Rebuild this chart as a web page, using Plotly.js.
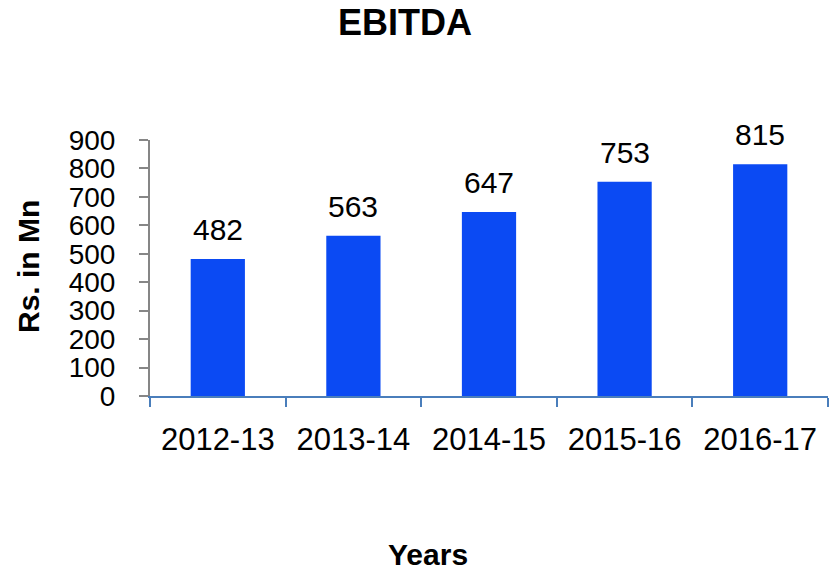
<!DOCTYPE html>
<html>
<head>
<meta charset="utf-8">
<script src="https://cdn.plot.ly/plotly-3.0.1.min.js"></script>
<style>html,body{margin:0;padding:0;background:#fff}#chart{width:836px;height:573px}</style>
</head>
<body>
<div id="chart"></div>
<script>
const years = ["2012-13", "2013-14", "2014-15", "2015-16", "2016-17"];
const ebitda = [482, 563, 647, 753, 815];
const yTicks = [0, 100, 200, 300, 400, 500, 600, 700, 800, 900];

const font = "Liberation Sans, Arial, sans-serif";

const trace = {
  type: "bar",
  x: years,
  y: ebitda,
  width: 0.4,
  marker: {color: "#0b4af3"},
  hoverinfo: "x+y"
};

const labelAnnotations = years.map((yr, i) => ({
  x: yr, y: ebitda[i], xref: "x", yref: "y",
  text: String(ebitda[i]), showarrow: false,
  yanchor: "bottom", yshift: 11,
  font: {family: font, size: 30, color: "#000"}
}));

const layout = {
  width: 836, height: 573,
  margin: {l: 150, r: 8, t: 140, b: 177},
  paper_bgcolor: "#fff", plot_bgcolor: "#fff",
  showlegend: false,
  title: {
    text: "<b>EBITDA</b>", xref: "container", yref: "container",
    x: 405/836, xanchor: "center", y: 1 - 22/573, yanchor: "middle",
    font: {family: font, size: 36, color: "#000"}
  },
  xaxis: {
    type: "category",
    showline: true, linecolor: "#4a7ebb", linewidth: 2,
    ticks: "outside", tickson: "boundaries", ticklen: 9, tickcolor: "#4a7ebb", tickwidth: 2,
    tickfont: {family: font, size: 31, color: "#000"},
    ticklabelstandoff: 15,
    showgrid: false, zeroline: false
  },
  yaxis: {
    range: [0, 900],
    tickvals: yTicks,
    showline: true, linecolor: "#868686", linewidth: 2,
    ticks: "outside", ticklen: 9, tickcolor: "#868686", tickwidth: 2,
    tickfont: {family: font, size: 28, color: "#000"},
    ticklabelstandoff: 18,
    showgrid: false, zeroline: false
  },
  annotations: labelAnnotations.concat([
    {
      text: "<b>Years</b>", xref: "paper", yref: "paper",
      x: (428 - 150) / 678, y: -(554 - 396) / 256, xanchor: "center", yanchor: "middle",
      showarrow: false, font: {family: font, size: 30, color: "#000"}
    },
    {
      text: "<b>Rs. in Mn</b>", xref: "paper", yref: "paper", textangle: -90,
      x: -(150 - 28) / 678, y: (396 - 266) / 256, xanchor: "center", yanchor: "middle",
      showarrow: false, font: {family: font, size: 30, color: "#000"}
    }
  ])
};

Plotly.newPlot("chart", [trace], layout, {displayModeBar: false, staticPlot: true});
</script>
</body>
</html>
